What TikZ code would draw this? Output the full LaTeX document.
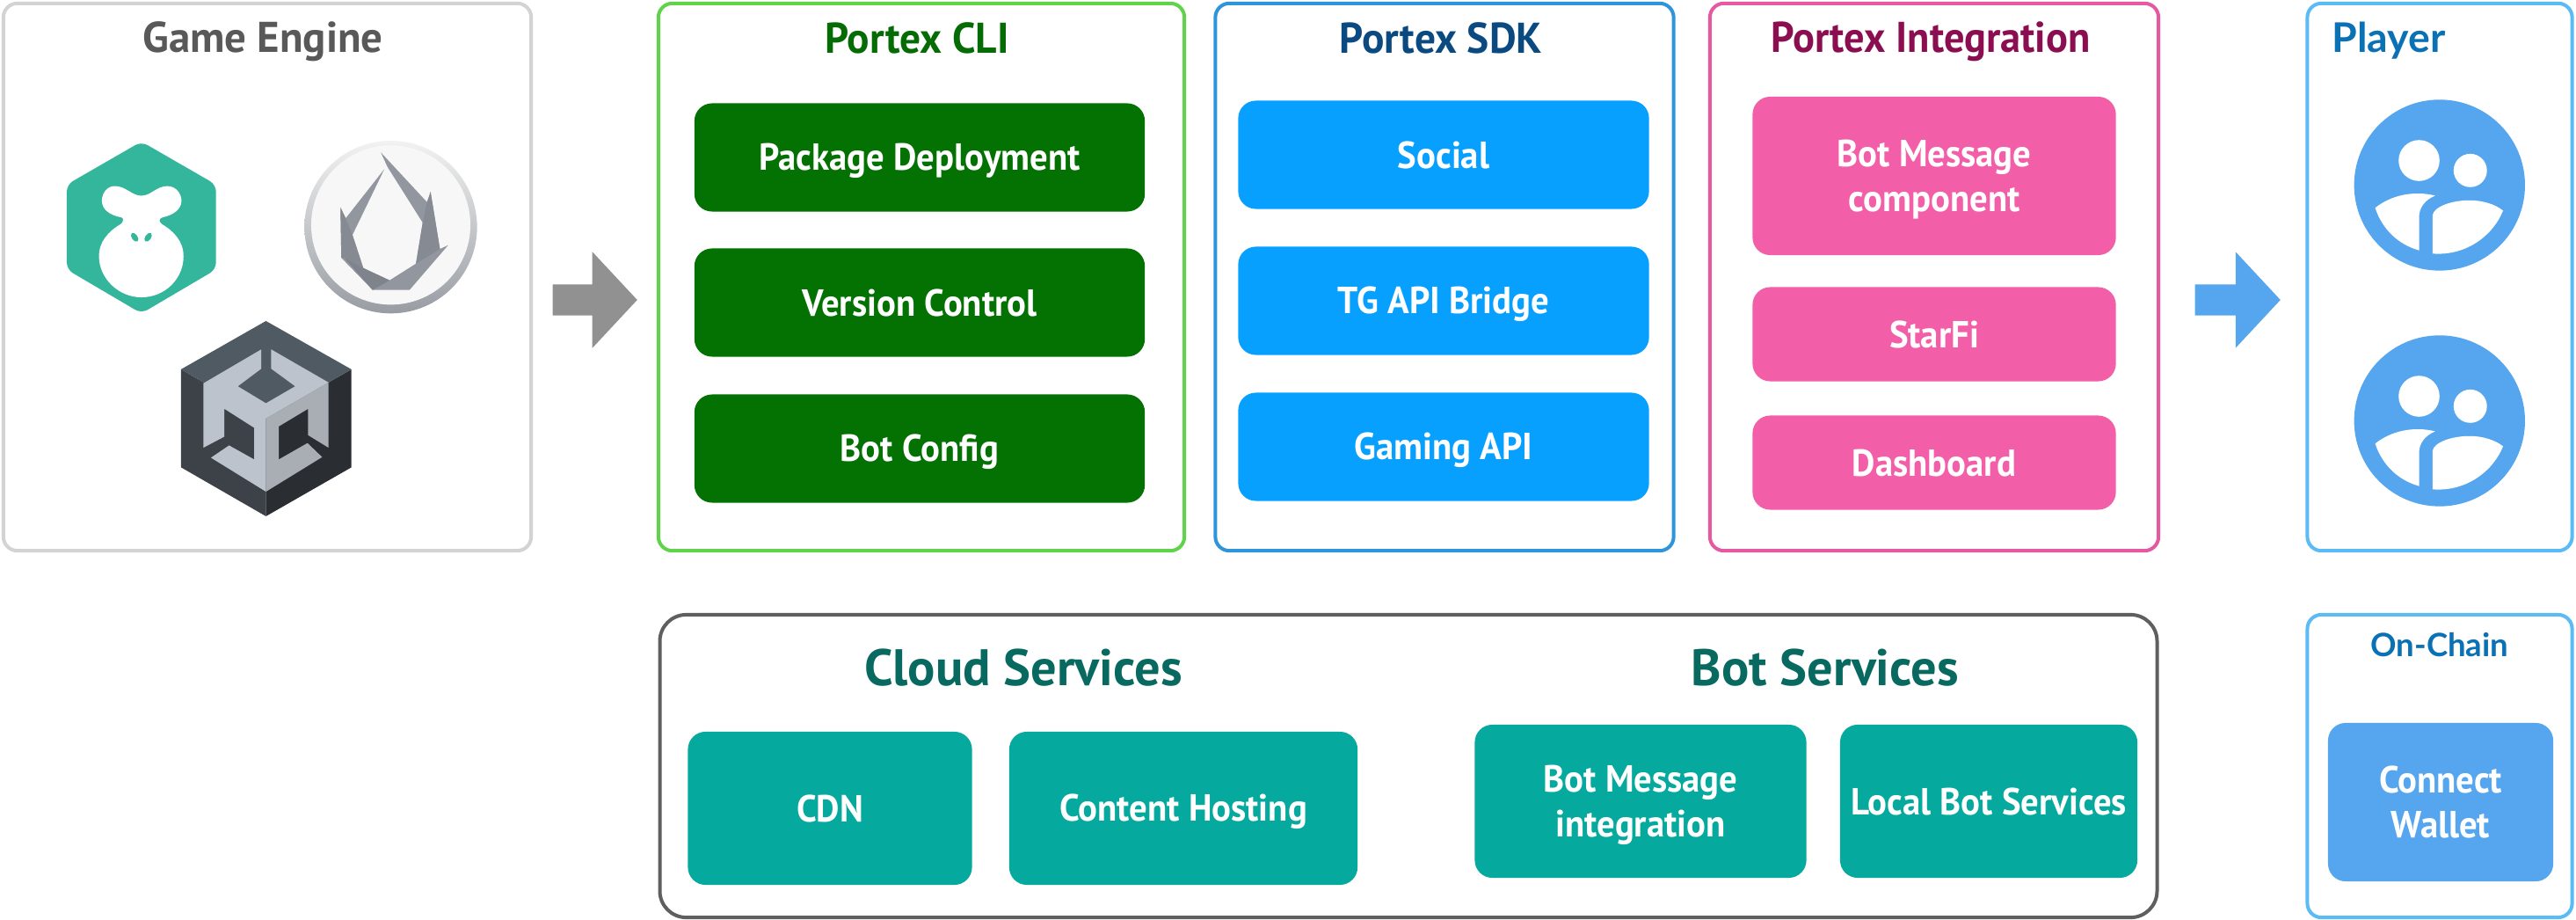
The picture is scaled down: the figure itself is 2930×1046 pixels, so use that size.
\documentclass[tikz,border=0pt]{standalone}
\usepackage{fontspec}
\setmainfont{PT Sans}
\newfontfamily\itemfont{PT Sans}[FakeStretch=0.95]
\newfontfamily\titlefont{PT Sans}[FakeStretch=0.97]
\newfontfamily\latofont{Lato}
\usetikzlibrary{shapes.arrows}
\definecolor{gamegray}{HTML}{D3D3D3}
\definecolor{gametext}{HTML}{595959}
\definecolor{arrowgray}{HTML}{919191}
\definecolor{cligreen}{HTML}{037203}
\definecolor{cliframe}{HTML}{5FD34A}
\definecolor{clitext}{HTML}{056B05}
\definecolor{sdkblue}{HTML}{08A0FF}
\definecolor{sdkframe}{HTML}{2F95DB}
\definecolor{sdktext}{HTML}{0B4A80}
\definecolor{intpink}{HTML}{F25FA8}
\definecolor{intframe}{HTML}{E659A0}
\definecolor{inttext}{HTML}{8B0F50}
\definecolor{playerframe}{HTML}{5ABBF5}
\definecolor{playertext}{HTML}{0B71B5}
\definecolor{playerblue}{HTML}{55A6EE}
\definecolor{cloudteal}{HTML}{06A99D}
\definecolor{cloudtext}{HTML}{07695F}
\definecolor{cloudframe}{HTML}{5F5F5F}
\definecolor{monkeygreen}{HTML}{33B69C}
\definecolor{cubetop}{HTML}{505A62}
\definecolor{cubeleft}{HTML}{3C4248}
\definecolor{cuberight}{HTML}{2A2D32}
\definecolor{cubelight}{HTML}{BDC3CC}
\definecolor{cubemid}{HTML}{A9AEB5}
\definecolor{flamegray}{HTML}{92979F}
\definecolor{flamedark}{HTML}{7F848C}
\definecolor{flamemid}{HTML}{868B93}
\newcommand{\linestrut}{\rule[-0.2em]{0pt}{1.1em}}
\newcommand{\firststrut}{\rule[-0.2em]{0pt}{2.29em}}
\tikzset{
  framebox/.style={draw, line width=0.04cm, rounded corners=0.16cm, inner sep=0pt, fill=white},
  itembox/.style={rounded corners=0.2cm, inner sep=0pt, text=white, align=center,
    font=\itemfont\bfseries\fontsize{12.2}{14.5}\selectfont,
    execute at begin node=\linestrut, execute at end node=\linestrut},
  twolinebox/.style={itembox, execute at begin node=\firststrut},
  titlelabel/.style={inner sep=0pt, font=\titlefont\bfseries\fontsize{13.9}{16}\selectfont,
    execute at begin node=\linestrut},
  biglabel/.style={inner sep=0pt, text=cloudtext, font=\bfseries\fontsize{16.6}{19}\selectfont},
  blockarrow/.style={single arrow, inner xsep=0pt, inner ysep=0.17cm, anchor=tail, minimum height=0.96cm,
    single arrow head extend=0.37cm, single arrow tip angle=94}
}
\begin{document}
\begin{tikzpicture}[x=0.01cm,y=-0.01cm]
  \useasboundingbox (0,0) rectangle (2930,1046);
  % frames
  \node[framebox, draw=gamegray, minimum width=6.0cm, minimum height=6.22cm] (engine) at (304,315) {};
  \node[framebox, draw=cliframe, minimum width=5.98cm, minimum height=6.22cm] (cli) at (1048,315) {};
  \node[framebox, draw=sdkframe, minimum width=5.21cm, minimum height=6.22cm] (sdk) at (1643,315) {};
  \node[framebox, draw=intframe, minimum width=5.1cm, minimum height=6.22cm] (integration) at (2200,315) {};
  \node[framebox, draw=playerframe, minimum width=3.01cm, minimum height=6.22cm] (player) at (2775,315) {};
  \node[framebox, draw=cloudframe, rounded corners=0.3cm, minimum width=17.02cm, minimum height=3.44cm] (services) at (1602,871) {};
  \node[framebox, draw=playerframe, minimum width=3.01cm, minimum height=3.44cm] (onchain) at (2775,871) {};
  % titles
  \node[titlelabel, text=gametext, font=\bfseries\fontsize{13.9}{16}\selectfont] (enginetitle) at (299,43) {Game Engine};
  \node[titlelabel, text=clitext] (clititle) at (1043,43) {Portex CLI};
  \node[titlelabel, text=sdktext] (sdktitle) at (1639,43) {Portex SDK};
  \node[titlelabel, text=inttext, font=\itemfont\bfseries\fontsize{13.9}{16}\selectfont] (inttitle) at (2196,43) {Portex Integration};
  \node[titlelabel, text=playertext, font=\latofont\bfseries\fontsize{13.2}{15}\selectfont] (playertitle) at (2717,43) {Player};
  \node[biglabel] (cloudtitle) at (1164,759) {Cloud Services};
  \node[biglabel] (bottitle) at (2076,759) {Bot Services};
  \node[titlelabel, text=playertext, font=\latofont\bfseries\fontsize{10.4}{12}\selectfont] (chaintitle) at (2775,734) {On-Chain};
  % portex cli
  \node[itembox, fill=cligreen, minimum width=5.12cm, minimum height=1.23cm] (deploy) at (1046,179) {Package Deployment};
  \node[itembox, fill=cligreen, minimum width=5.12cm, minimum height=1.23cm] (version) at (1046,344) {Version Control};
  \node[itembox, fill=cligreen, minimum width=5.12cm, minimum height=1.23cm] (config) at (1046,510) {Bot Config};
  % portex sdk
  \node[itembox, fill=sdkblue, minimum width=4.67cm, minimum height=1.23cm] (social) at (1642,176) {Social};
  \node[itembox, fill=sdkblue, minimum width=4.67cm, minimum height=1.23cm] (bridge) at (1642,342) {TG API Bridge};
  \node[itembox, fill=sdkblue, minimum width=4.67cm, minimum height=1.23cm] (gaming) at (1642,508) {Gaming API};
  % portex integration
  \node[twolinebox, fill=intpink, minimum width=4.13cm, minimum height=1.8cm] (botmsg) at (2200,200) {Bot Message\\component};
  \node[itembox, fill=intpink, minimum width=4.13cm, minimum height=1.07cm] (starfi) at (2200,380) {StarFi};
  \node[itembox, fill=intpink, minimum width=4.13cm, minimum height=1.07cm] (dashboard) at (2200,526) {Dashboard};
  % services
  \node[itembox, fill=cloudteal, minimum width=3.23cm, minimum height=1.74cm] (cdn) at (944,919) {CDN};
  \node[itembox, fill=cloudteal, minimum width=3.96cm, minimum height=1.74cm] (hosting) at (1346,919) {Content Hosting};
  \node[twolinebox, fill=cloudteal, minimum width=3.77cm, minimum height=1.74cm] (botint) at (1866,911) {Bot Message\\integration};
  \node[itembox, fill=cloudteal, minimum width=3.38cm, minimum height=1.74cm] (localbot) at (2262,911) {Local Bot Services};
  \node[twolinebox, fill=playerblue, minimum width=2.56cm, minimum height=1.8cm] (wallet) at (2776,912) {Connect\\Wallet};
  % arrows
  \node[blockarrow, fill=arrowgray] (grayarrow) at (628,341) {};
  \node[blockarrow, fill=playerblue, minimum height=0.97cm] (bluearrow) at (2496,341) {};
  % monkey logo
  \begin{scope}[shift={(60,150)},x=0.00333cm,y=-0.00333cm]
    \fill[monkeygreen, rounded corners=0.08cm] (303,33) -- (558,180) -- (558,470) -- (303,620) -- (48,470) -- (48,180) -- cycle;
    \fill[white] (303,218) .. controls (270,218) and (250,185) .. (212,185) .. controls (185,185) and (168,210) .. (168,235)
      .. controls (168,265) and (195,285) .. (235,292) .. controls (245,295) and (240,310) .. (232,315)
      .. controls (190,340) and (158,375) .. (158,425) .. controls (158,500) and (225,565) .. (303,565)
      .. controls (385,565) and (447,500) .. (447,425) .. controls (447,375) and (415,340) .. (373,315)
      .. controls (362,308) and (362,295) .. (375,292) .. controls (410,285) and (440,265) .. (440,235)
      .. controls (440,210) and (420,185) .. (392,185) .. controls (355,185) and (335,218) .. cycle;
    \fill[monkeygreen, rotate around={35:(280,360)}] (280,360) ellipse (10 and 17);
    \fill[monkeygreen, rotate around={-35:(326,360)}] (326,360) ellipse (10 and 17);
  \end{scope}
  % flame logo
  \begin{scope}[shift={(330,150)},x=0.00333cm,y=-0.00333cm]
    \shade[top color=black!5, bottom color=cubemid!90!black] (344,325) circle (295);
    \fill[white!97!black] (344,318) circle (272);
    \fill[flamegray] (310,70) -- (468,240) -- (480,205) -- (512,400) -- (540,387) -- (408,540) -- (282,540) -- (175,430) -- (172,258) -- (190,295) -- (322,127) -- (213,352) -- (250,465) -- (340,507) -- (430,450) -- (453,310) -- (333,120) -- cycle;
    \fill[flamemid] (468,240) -- (480,205) -- (512,400) -- (430,450) -- (453,310) -- cycle;
    \fill[flamedark] (185,430) -- (250,465) -- (340,507) -- (282,540) -- cycle;
    \fill[flamemid] (172,258) -- (190,295) -- (213,352) -- (250,465) -- (185,430) -- (175,430) -- cycle;
  \end{scope}
  % unity logo
  \begin{scope}[shift={(190,350)},x=0.00333cm,y=-0.00333cm]
    \fill[cubeleft] (338,378) -- (48,210) -- (48,545) -- (338,712) -- cycle;
    \fill[cuberight] (338,378) -- (630,210) -- (630,545) -- (338,712) -- cycle;
    \fill[cubetop] (338,45) -- (630,210) -- (338,378) -- (48,210) -- cycle;
    \fill[cubelight] (124,258) -- (322,142) -- (322,208) -- (242,268) -- (338,326) -- (438,268) -- (356,208) -- (356,142) -- (552,255) -- (338,378) -- (338,628) -- (150,512) -- (212,470) -- (298,518) -- (298,410) -- (196,345) -- (196,440) -- (124,478) -- cycle;
    \fill[cubemid] (552,255) -- (552,478) -- (482,435) -- (482,345) -- (382,405) -- (382,518) -- (480,462) -- (530,510) -- (338,628) -- (338,378) -- cycle;
  \end{scope}
  % player icons
  \foreach \dy in {0,268} {
    \begin{scope}[shift={(2640,90+\dy)},x=0.00333cm,y=-0.00333cm]
      \fill[playerblue] (405,362) circle (292);
      \fill[white] (335,278) circle (70);
      \fill[white] (510,312) circle (57);
      \fill[white] (185,440) .. controls (240,395) and (320,380) .. (390,398) .. controls (355,412) and (335,440) .. (335,470) -- (335,585) .. controls (265,565) and (210,515) .. cycle;
      \fill[white] (381,465) .. controls (385,435) and (450,413) .. (510,414) .. controls (550,414) and (595,427) .. (622,449) .. controls (590,530) and (500,605) .. (381,596) -- cycle;
    \end{scope}
  }
\end{tikzpicture}
\end{document}
